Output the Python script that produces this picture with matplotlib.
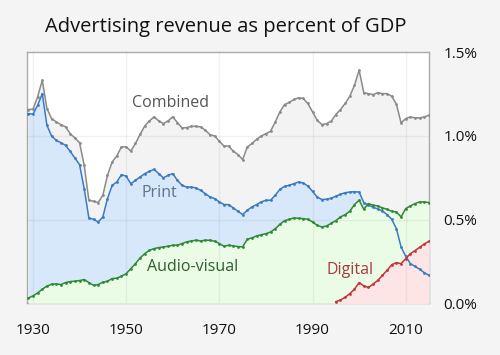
import matplotlib
matplotlib.use("Agg")
import matplotlib.pyplot as plt
from matplotlib.ticker import FixedLocator

plt.rcParams['font.family'] = ['Open Sans', 'DejaVu Sans']

years = list(range(1929, 2016))
combined = [1.158, 1.16, 1.233, 1.333, 1.164, 1.104, 1.084, 1.068, 1.054, 1.014,
            0.988, 0.960, 0.825, 0.616, 0.61, 0.602, 0.646, 0.765, 0.845, 0.881,
            0.935, 0.935, 0.91, 0.955, 1.01, 1.06, 1.09, 1.114, 1.09, 1.074,
            1.09, 1.114, 1.08, 1.048, 1.05, 1.058, 1.058, 1.054, 1.034, 1.008,
            1.0, 0.968, 0.94, 0.94, 0.909, 0.889, 0.859, 0.934, 0.955, 0.98,
            1.0, 1.014, 1.028, 1.084, 1.144, 1.188, 1.2, 1.218, 1.228, 1.224,
            1.194, 1.144, 1.094, 1.068, 1.074, 1.088, 1.128, 1.158, 1.194, 1.237,
            1.303, 1.393, 1.259, 1.253, 1.247, 1.259, 1.253, 1.253, 1.237, 1.19,
            1.078, 1.104, 1.114, 1.108, 1.108, 1.114, 1.124]
printv = [1.134, 1.13, 1.183, 1.253, 1.064, 1.0, 0.974, 0.96, 0.944, 0.908,
          0.868, 0.829, 0.685, 0.51, 0.502, 0.486, 0.516, 0.626, 0.705, 0.725,
          0.769, 0.76, 0.715, 0.735, 0.755, 0.775, 0.789, 0.80, 0.775, 0.75,
          0.765, 0.775, 0.735, 0.705, 0.695, 0.695, 0.689, 0.675, 0.655, 0.635,
          0.626, 0.606, 0.59, 0.59, 0.57, 0.55, 0.53, 0.556, 0.576, 0.59,
          0.606, 0.616, 0.616, 0.646, 0.681, 0.699, 0.705, 0.715, 0.725, 0.719,
          0.701, 0.669, 0.635, 0.62, 0.622, 0.628, 0.64, 0.652, 0.661, 0.665,
          0.667, 0.665, 0.602, 0.586, 0.574, 0.564, 0.552, 0.53, 0.502, 0.446,
          0.337, 0.281, 0.237, 0.221, 0.203, 0.183, 0.167]
audiovisual = [0.032, 0.044, 0.062, 0.084, 0.103, 0.114, 0.116, 0.112, 0.124, 0.13,
               0.132, 0.136, 0.142, 0.124, 0.108, 0.112, 0.126, 0.132, 0.148, 0.15,
               0.162, 0.177, 0.207, 0.237, 0.271, 0.297, 0.317, 0.327, 0.333, 0.337,
               0.341, 0.347, 0.347, 0.357, 0.367, 0.373, 0.377, 0.373, 0.377, 0.377,
               0.371, 0.357, 0.341, 0.347, 0.343, 0.339, 0.337, 0.383, 0.391, 0.403,
               0.41, 0.416, 0.426, 0.446, 0.472, 0.494, 0.502, 0.51, 0.508, 0.506,
               0.502, 0.486, 0.466, 0.456, 0.462, 0.478, 0.494, 0.516, 0.53, 0.55,
               0.59, 0.616, 0.562, 0.596, 0.586, 0.582, 0.57, 0.562, 0.55, 0.546,
               0.516, 0.566, 0.582, 0.596, 0.606, 0.606, 0.602]
digital_years = list(range(1995, 2016))
digital = [0.01, 0.02, 0.036, 0.058, 0.084, 0.124, 0.104, 0.095, 0.115, 0.137,
           0.167, 0.197, 0.231, 0.243, 0.237, 0.267, 0.297, 0.315, 0.335, 0.355,
           0.371]

xticks = [1930, 1950, 1970, 1990, 2010]
yticks = [0.0, 0.5, 1.0, 1.5]
ytick_labels = ["0.0%", "0.5%", "1.0%", "1.5%"]

fig = plt.figure(figsize=(5, 3.55), dpi=100, facecolor='#f4f4f4')
ax = fig.add_axes([0.0534, 0.1456, 0.8052, 0.7071])
ax.set_facecolor('white')

ax.fill_between(years, 0, combined, color='#f3f3f3', lw=0, zorder=1)
ax.fill_between(years, 0, printv, color='#d8e8fb', lw=0, zorder=2)
ax.fill_between(years, 0, audiovisual, color='#eafbe6', lw=0, zorder=3)
ax.fill_between(digital_years, 0, digital, color='#fde5e5', lw=0, zorder=4)

for xt in xticks:
    ax.axvline(xt, color=(0, 0, 0, 0.05), lw=1, zorder=5)
for yt in yticks[1:-1]:
    ax.axhline(yt, color=(0, 0, 0, 0.05), lw=1, zorder=5)

kw = dict(lw=1.1, marker='o', markersize=2.0, markeredgewidth=0)
ax.plot(years, combined, color='#8a8a8a', zorder=6, **kw)
ax.plot(years, printv, color='#3a7bc0', zorder=7, **kw)
ax.plot(years, audiovisual, color='#2e8a34', zorder=8, **kw)
ax.plot(digital_years, digital, color='#c0343c', zorder=9, **kw)

ax.text(1959.5, 1.198, "Combined", color='#555555', fontsize=11.5, ha='center', va='center', zorder=10)
ax.text(1957.05, 0.657, "Print", color='#5b7394', fontsize=11.5, ha='center', va='center', zorder=10)
ax.text(1964.35, 0.218, "Audio-visual", color='#2f5f2f', fontsize=11.5, ha='center', va='center', zorder=10)
ax.text(1998.1, 0.197, "Digital", color='#a83a3f', fontsize=11.5, ha='center', va='center', zorder=10)

ax.set_xlim(1928.66, 2015.06)
ax.set_ylim(0, 1.5)
ax.xaxis.set_major_locator(FixedLocator(xticks))
ax.set_xticklabels([str(x) for x in xticks])
ax.yaxis.tick_right()
ax.set_yticks(yticks)
ax.set_yticklabels(ytick_labels)
ax.tick_params(axis='both', length=0, labelsize=11, colors='#111111')
ax.tick_params(axis='x', pad=14)
ax.tick_params(axis='y', pad=10)
for s in ax.spines.values():
    s.set_color('#aaaaaa')
    s.set_linewidth(1)

fig.text(0.452, 0.909, "Advertising revenue as percent of GDP", ha='center', va='baseline',
         fontsize=14.5, color='#111111')

fig.savefig("out.png", dpi=100, facecolor=fig.get_facecolor())
